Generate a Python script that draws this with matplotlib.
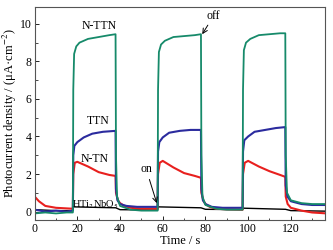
import numpy as np
import matplotlib.pyplot as plt

# time points (s) and photocurrent (uA/cm2)
t_nttn = [0, 5, 10, 15, 17.9, 18.1, 18.5, 19.5, 21, 25, 30, 35, 37.9,
          38.1, 38.6, 40, 45, 50, 55, 57.6, 57.8, 58.2, 59.2, 61, 65, 70, 75, 77.9,
          78.1, 78.6, 80, 85, 90, 95, 97.4, 97.6, 98.0, 99, 101, 105, 110, 115, 117.4,
          117.6, 118.2, 120, 125, 130, 137]
y_nttn = [-0.1, -0.05, -0.1, -0.05, -0.05, 6.5, 8.4, 8.8, 9.0, 9.2, 9.3, 9.4, 9.45,
          3.0, 0.8, 0.3, 0.1, 0.05, 0.05, 0.05, 6.5, 8.5, 8.9, 9.1, 9.3, 9.35, 9.4, 9.45,
          3.0, 0.8, 0.35, 0.15, 0.1, 0.1, 0.1, 6.5, 8.6, 9.0, 9.2, 9.4, 9.45, 9.5, 9.5,
          3.0, 1.0, 0.6, 0.45, 0.4, 0.4]

t_ttn = [0, 5, 10, 15, 17.9, 18.1, 18.6, 20, 23, 27, 32, 37.9,
         38.1, 38.8, 40, 43, 48, 55, 57.6, 57.8, 58.4, 60, 63, 68, 73, 77.9,
         78.1, 78.8, 80, 83, 88, 95, 97.4, 97.6, 98.2, 100, 103, 108, 113, 117.4,
         117.6, 118.4, 120, 125, 130, 137]
y_ttn = [0.1, 0.0, 0.05, 0.0, 0.05, 3.0, 3.5, 3.7, 3.95, 4.15, 4.25, 4.3,
         1.2, 0.6, 0.4, 0.3, 0.25, 0.25, 0.25, 3.2, 3.7, 3.95, 4.2, 4.3, 4.35, 4.35,
         1.2, 0.6, 0.4, 0.25, 0.2, 0.2, 0.2, 3.2, 3.8, 4.0, 4.25, 4.35, 4.45, 4.5,
         1.4, 0.8, 0.55, 0.4, 0.35, 0.35]

t_ntn = [0, 2, 5, 10, 17.9, 18.1, 18.8, 20, 25, 30, 35, 37.9,
         38.1, 39, 40, 42, 45, 50, 57.6, 57.8, 58.6, 60, 65, 70, 75, 77.9,
         78.1, 79, 80, 82, 85, 90, 97.4, 97.6, 98.4, 100, 105, 110, 115, 117.4,
         117.6, 118.5, 120, 125, 130, 137]
y_ntn = [0.8, 0.55, 0.3, 0.2, 0.15, 2.0, 2.6, 2.65, 2.4, 2.1, 1.95, 1.9,
         1.0, 0.6, 0.45, 0.3, 0.2, 0.15, 0.15, 2.0, 2.6, 2.7, 2.35, 2.05, 1.9, 1.8,
         1.0, 0.6, 0.4, 0.25, 0.15, 0.12, 0.1, 2.0, 2.6, 2.7, 2.4, 2.15, 1.95, 1.85,
         0.8, 0.4, 0.2, 0.05, -0.05, -0.1]

t_htn = [0, 10, 17.9, 18.1, 38, 40, 57.6, 57.8, 77.9, 80, 97.4, 97.6, 117.5, 120, 137]
y_htn = [0.1, 0.05, 0.05, 0.25, 0.2, 0.1, 0.08, 0.25, 0.2, 0.12, 0.1, 0.18, 0.12, 0.05, 0.02]

plt.rcParams['font.family'] = 'Liberation Serif'
plt.rcParams['mathtext.fontset'] = 'stix'

fig = plt.figure(figsize=(3.33, 2.5), dpi=100)
ax = fig.add_axes([0.104, 0.12, 0.872, 0.852])

ax.plot(t_htn, y_htn, color='black', lw=1.0)
ax.plot(t_ntn, y_ntn, color='#e8201e', lw=1.5)
ax.plot(t_ttn, y_ttn, color='#2b2b9e', lw=1.5)
ax.plot(t_nttn, y_nttn, color='#168a6a', lw=1.3)

ax.set_xlim(0, 136)
ax.set_ylim(-0.45, 10.9)
ax.set_xticks([0, 20, 40, 60, 80, 100, 120])
ax.set_xticks(np.arange(10, 136, 20), minor=True)
ax.set_yticks([0, 2, 4, 6, 8, 10])
ax.set_yticks([1, 3, 5, 7, 9], minor=True)
ax.tick_params(direction='in', labelsize=8.5, length=3, width=0.6, pad=2)
ax.tick_params(which='minor', direction='in', length=1.8, width=0.5)
for s in ax.spines.values():
    s.set_color('#555555')
    s.set_linewidth(0.8)

ax.set_xlabel('Time / s', fontsize=9, labelpad=0)
ax.set_ylabel('Photocurrent density / (μA·cm$^{-2}$)', fontsize=9, labelpad=1)

ax.text(30, 9.9, 'N-TTN', fontsize=8.5, ha='center', va='center')
ax.text(30, 4.8, 'TTN', fontsize=8.5, ha='center', va='center')
ax.text(28, 2.8, 'N-TN', fontsize=8.5, ha='center', va='center')
ax.text(28.6, 0.34, 'HTi$_2$NbO$_5$', fontsize=7.5, ha='center', va='center')

ax.annotate('off', xy=(78.5, 9.45), xytext=(80.5, 10.4), fontsize=8.5, va='center',
            arrowprops=dict(arrowstyle='->', color='black', lw=0.7, shrinkA=0, shrinkB=0))
ax.annotate('on', xy=(57.2, 0.45), xytext=(49.5, 2.25), fontsize=8.5, va='center',
            arrowprops=dict(arrowstyle='->', color='black', lw=0.7, shrinkA=1, shrinkB=0))

fig.savefig('out.png', dpi=100)
